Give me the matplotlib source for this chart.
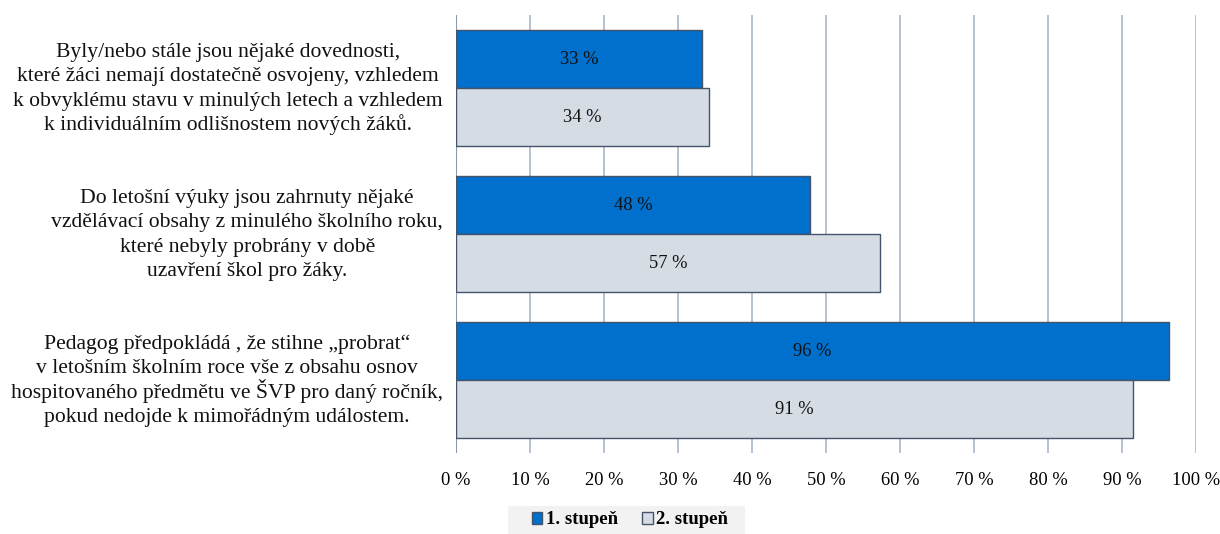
import matplotlib
matplotlib.use("Agg")
import matplotlib.pyplot as plt
import matplotlib.transforms as mtransforms
from matplotlib.patches import Rectangle
import numpy as np

plt.rcParams['font.family'] = ['Liberation Serif', 'DejaVu Serif']

categories = [
    "Byly/nebo stále jsou nějaké dovednosti,\nkteré žáci nemají dostatečně osvojeny, vzhledem\nk obvyklému stavu v minulých letech a vzhledem\nk individuálním odlišnostem nových žáků.",
    "Do letošní výuky jsou zahrnuty nějaké\nvzdělávací obsahy z minulého školního roku,\nkteré nebyly probrány v době\nuzavření škol pro žáky.",
    "Pedagog předpokládá , že stihne „probrat“\nv letošním školním roce vše z obsahu osnov\nhospitovaného předmětu ve ŠVP pro daný ročník,\npokud nedojde k mimořádným událostem.",
]
series_names = ["1. stupeň", "2. stupeň"]
values_1 = [33.2, 47.8, 96.4]
values_2 = [34.2, 57.3, 91.5]
labels_1 = ["33 %", "48 %", "96 %"]
labels_2 = ["34 %", "57 %", "91 %"]
xticks = [0, 10, 20, 30, 40, 50, 60, 70, 80, 90, 100]

blue = "#0070CC"
gray = "#D6DCE4"
edge = "#44546A"
grid_c = "#A9B6C9"

W, H = 1220, 534
fig = plt.figure(figsize=(W/100, H/100), dpi=100)
ax = fig.add_axes([456/W, 1-453/H, 740/W, 438/H])

y = np.arange(len(categories))
h = 116/146/2
b1 = ax.barh(y - h/2, values_1, height=h, color=blue, edgecolor=edge, linewidth=1, label=series_names[0], zorder=3)
b2 = ax.barh(y + h/2, values_2, height=h, color=gray, edgecolor=edge, linewidth=1, label=series_names[1], zorder=3)

for bars, labs in ((b1, labels_1), (b2, labels_2)):
    for rect, lab in zip(bars, labs):
        ax.text(rect.get_width()/2, rect.get_y() + rect.get_height()/2, lab,
                ha='center', va='center', fontsize=13.3, color='#111111', zorder=4)

ax.set_xlim(0, 100)
ax.set_ylim(len(categories) - 0.5, -0.5)
ax.set_xticks(xticks)
ax.set_xticklabels([f"{t} %" for t in xticks], fontsize=13.3)
ax.set_yticks([])
ax.tick_params(axis='x', length=0, pad=14)

for t in xticks[1:]:
    ax.axvline(t, color=grid_c, linewidth=1.2, zorder=1)
ax.axvline(0, color="#8C9AAE", linewidth=1.5, zorder=2)

for s in ax.spines.values():
    s.set_visible(False)

# category labels: lines centred within a block whose right edge is fixed
px_per_unit = 438 / len(categories)
line_step = 24.4
base_offsets = [-31 + k*line_step for k in range(4)]
trans = mtransforms.blended_transform_factory(fig.dpi_scale_trans, ax.transData)
renderer = fig.canvas.get_renderer()
right_edge = 443
for i, cat in enumerate(categories):
    lines = cat.split("\n")
    texts = []
    for k, line in enumerate(lines):
        yy = i + base_offsets[k] / px_per_unit
        t = ax.text(0, yy, line, transform=trans, ha='center', va='baseline',
                    fontsize=15.6, color='#111111', clip_on=False)
        texts.append(t)
    wmax = max(t.get_window_extent(renderer).width for t in texts)
    cx = (right_edge - wmax/2) / 100
    for t in texts:
        t.set_x(cx)

fig.patches.append(Rectangle((508/W, 0), 237/W, 28/H,
                             transform=fig.transFigure, facecolor='#F2F2F2',
                             edgecolor='none', zorder=0))
leg = fig.legend(handles=[b1, b2], labels=series_names, loc='center',
                 bbox_to_anchor=(630/W, 1-520/H), ncol=2, frameon=False,
                 prop={'weight': 'bold', 'size': 13.5}, handlelength=0.55, handleheight=0.55,
                 handletextpad=0.2, columnspacing=1.3, borderpad=0.0)

fig.savefig("out.png", dpi=100)
